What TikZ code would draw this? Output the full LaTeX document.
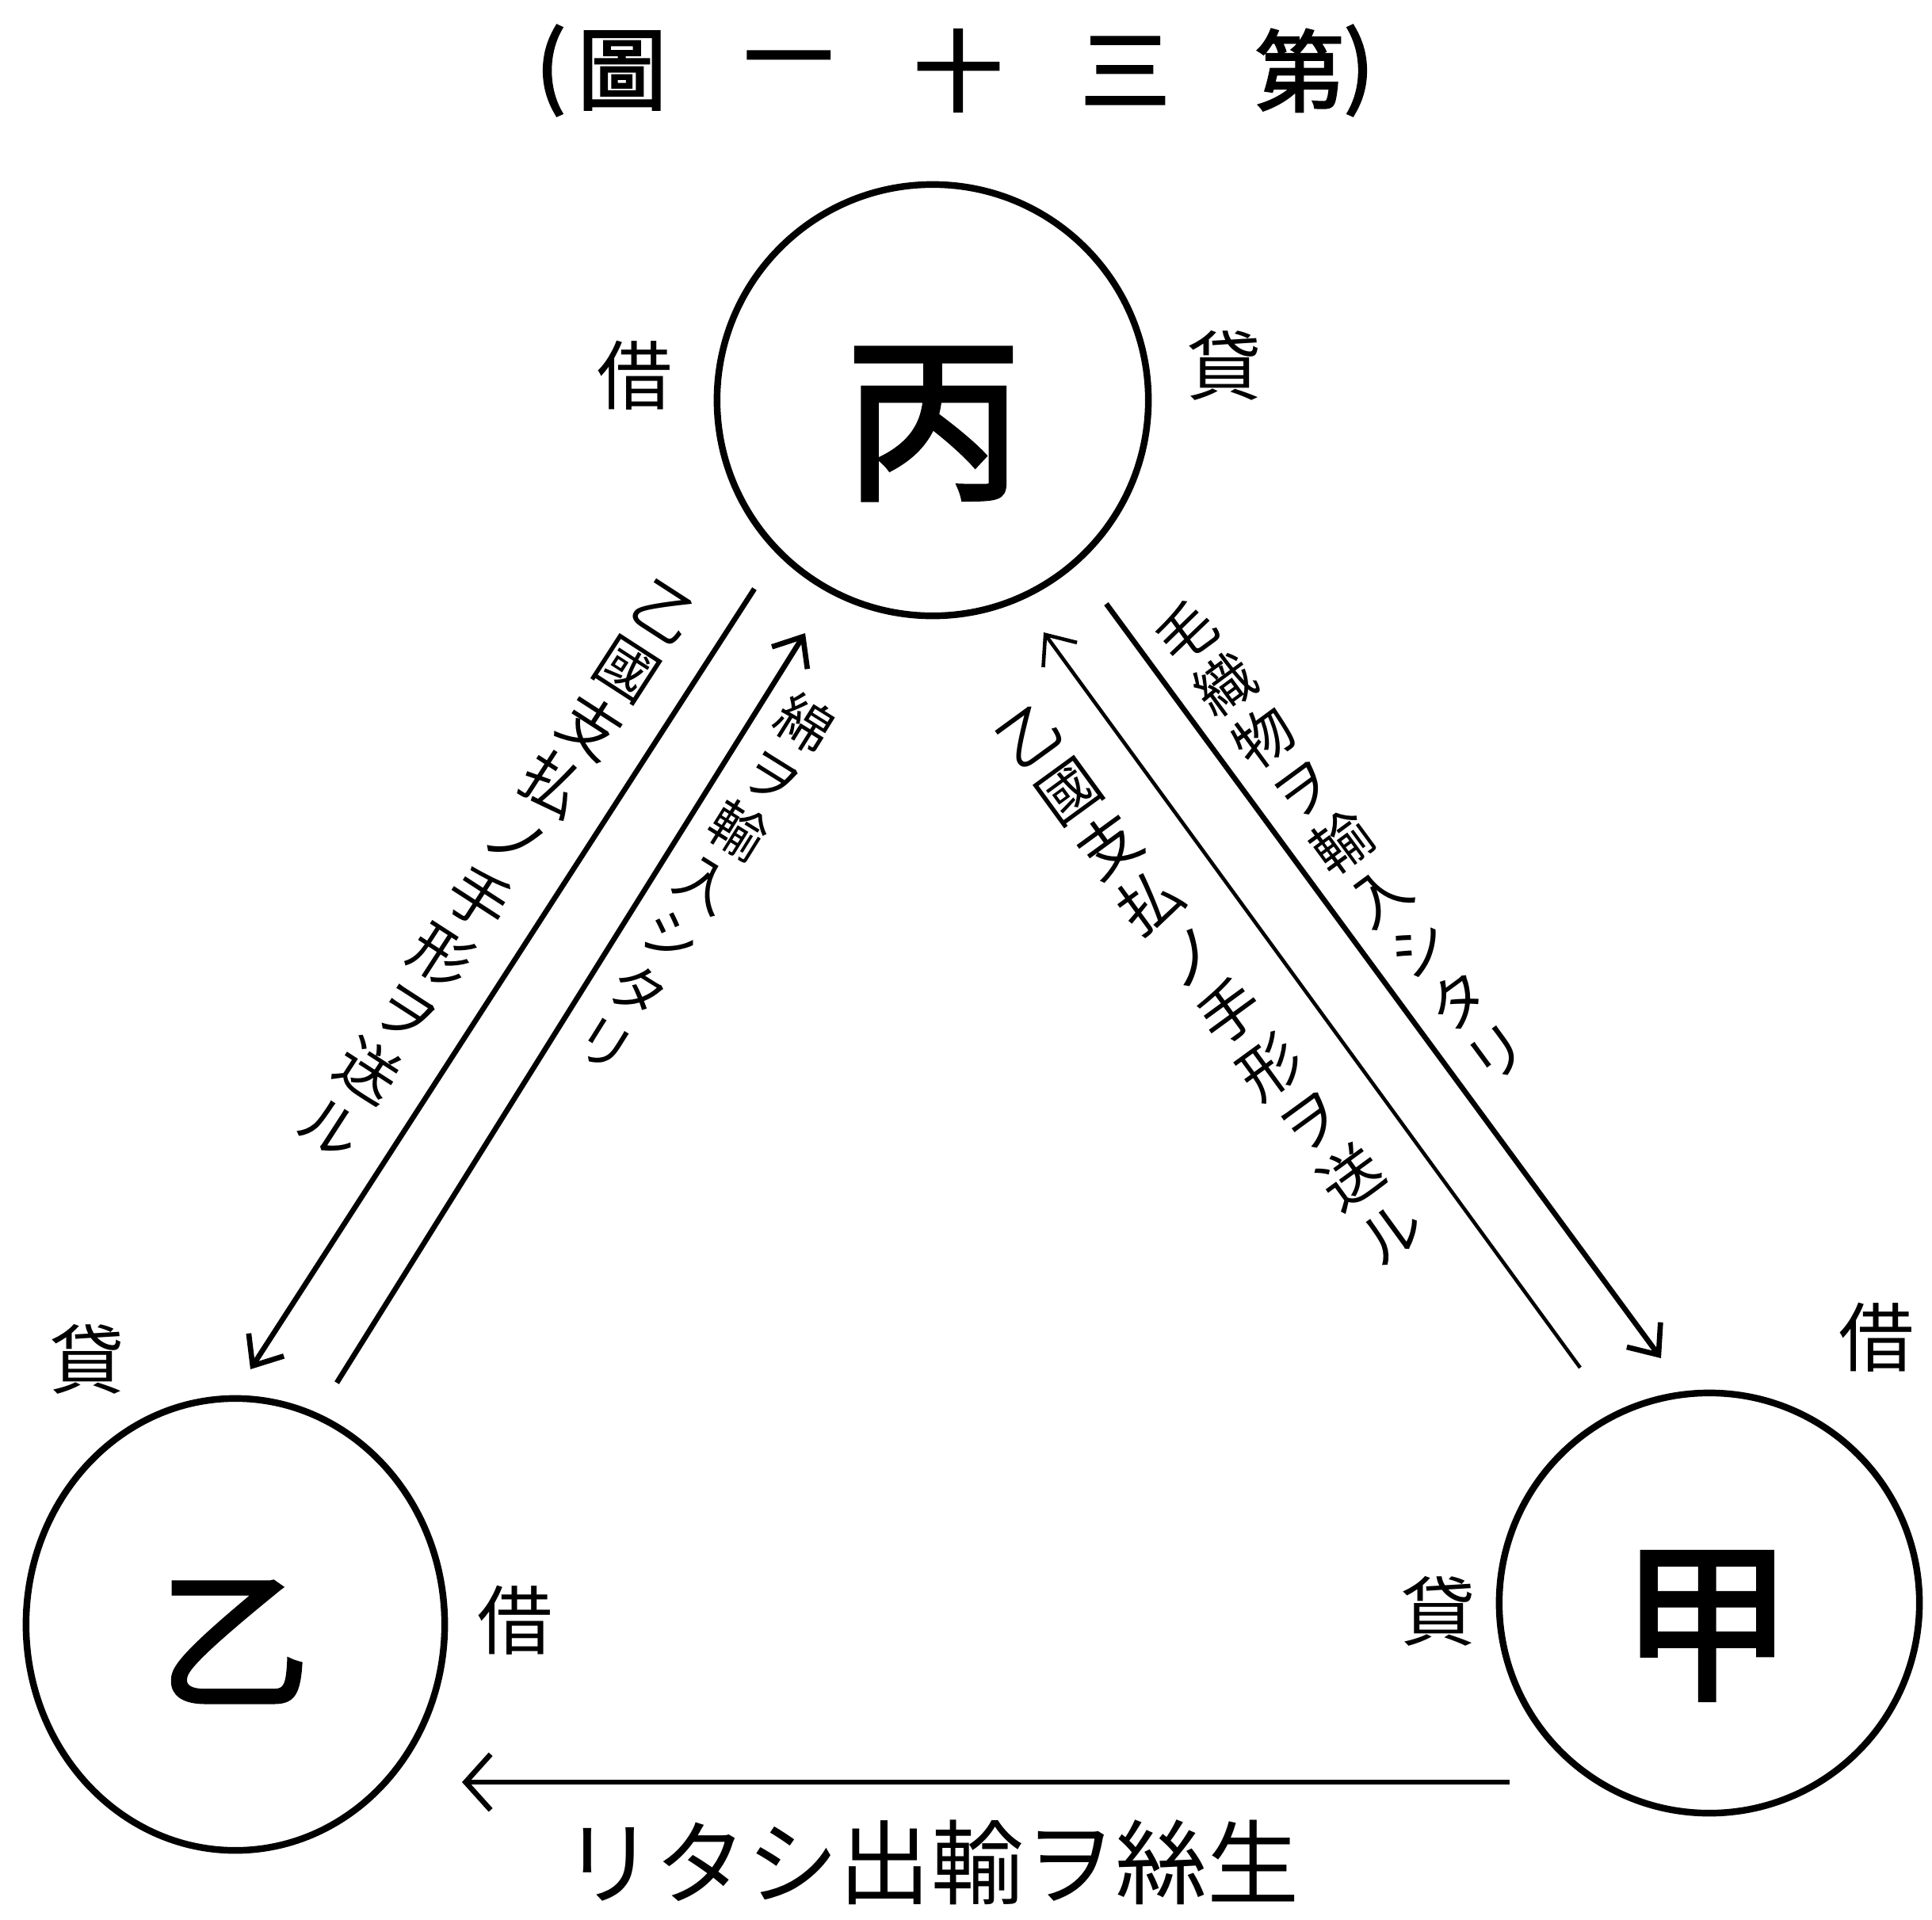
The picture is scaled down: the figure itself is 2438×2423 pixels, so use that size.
\documentclass[tikz,border=0pt]{standalone}
\usepackage{fontspec}
\newfontfamily\cjk{Noto Sans CJK JP}
\newfontfamily\cjkb[FakeBold=2.5]{Noto Sans CJK JP}
\usetikzlibrary{arrows.meta,shapes.geometric}
\begin{document}
\begin{tikzpicture}[x=0.01cm,y=-0.01cm,
  ring/.style={draw, line width=2.4pt, inner sep=0pt},
  link/.style={line width=1.9pt, -{Straight Barb[length=9pt,width=15pt]}},
  thinlink/.style={line width=1.3pt, -{Straight Barb[length=9pt,width=15pt]}},
  vlabel/.style={align=center, inner sep=0pt, font=\cjk\fontsize{22}{24.5}\selectfont},
  ttl/.style={inner sep=0pt, font=\cjkb\fontsize{32}{32}\selectfont},
  bigch/.style={inner sep=0pt, font=\cjkb\fontsize{64}{64}\selectfont},
  note/.style={inner sep=0pt, font=\cjk\fontsize{27}{27}\selectfont},
  bottomtxt/.style={inner sep=0pt, font=\cjk\fontsize{33}{33}\selectfont}]
\useasboundingbox (0,0) rectangle (2438,2423);

% title
\node[ttl] (t0) at (695,89) {(};
\node[ttl] (t1) at (785,89) {圖};
\node[ttl] (t2) at (995,89) {一};
\node[ttl] (t3) at (1209,89) {十};
\node[ttl] (t4) at (1420,89) {三};
\node[ttl] (t5) at (1640,89) {第};
\node[ttl] (t6) at (1715,89) {)};

% circles
\node[ring, circle, minimum size=5.44cm] (bing) at (1177,505) {};
\node[ring, ellipse, minimum width=5.28cm, minimum height=5.7cm] (otsu) at (297,2050) {};
\node[ring, circle, minimum size=5.3cm] (kou) at (2157,2023) {};

\node[bigch] (bingch) at (1178,535) {丙};
\node[bigch, font=\cjkb\fontsize{54}{54}\selectfont] (otsuch) at (296,2072) {乙};
\node[bigch, font=\cjkb\fontsize{62}{62}\selectfont] (kouch) at (2154,2052) {甲};

% side notes
\node[note] (n1) at (801,474) {借};
\node[note] (n2) at (1545,461) {貸};
\node[note] (n3) at (110,1715) {貸};
\node[note] (n4) at (650,2045) {借};
\node[note] (n5) at (2368,1688) {借};
\node[note] (n6) at (1815,2033) {貸};

% connector end points
\coordinate (lo1) at (952,743);
\coordinate (lo2) at (316,1728);
\coordinate (li1) at (425,1745);
\coordinate (li2) at (1016,799);
\coordinate (ri1) at (1994,1726);
\coordinate (ri2) at (1317,798);
\coordinate (ro1) at (1396,762);
\coordinate (ro2) at (2096,1714);
\coordinate (b1) at (1905,2249);
\coordinate (b2) at (583,2249);

\draw[link] (lo1) -- (lo2);
\draw[link] (li1) -- (li2);
\draw[thinlink] (ri1) -- (ri2);
\draw[link] (ro1) -- (ro2);
\draw[link, -{Straight Barb[length=9pt,width=20pt]}] (b1) -- (b2);

% labels
\node[vlabel, rotate=-32.9] (llo) at (628,1098) {乙\\國\\支\\払\\ノ\\手\\形\\ヲ\\送\\ル};
\node[vlabel, rotate=-31.9, font=\cjk\fontsize{20}{22.6}\selectfont] (lli) at (890,1114) {綿\\ヲ\\輸\\入\\シ\\タ\\リ};
\node[vlabel, rotate=36.1] (lri) at (1527,1242) {乙\\國\\支\\払\\ノ\\手\\形\\ヲ\\送\\ル};
\node[vlabel, rotate=36.3, font=\cjk\fontsize{21}{23.5}\selectfont] (lro) at (1692,1062) {毛\\織\\物\\ヲ\\輸\\入\\シ\\タ\\リ};

\node[bottomtxt] (lb) at (1175,2350) {リタシ出輸ヲ絲生};
\end{tikzpicture}
\end{document}
